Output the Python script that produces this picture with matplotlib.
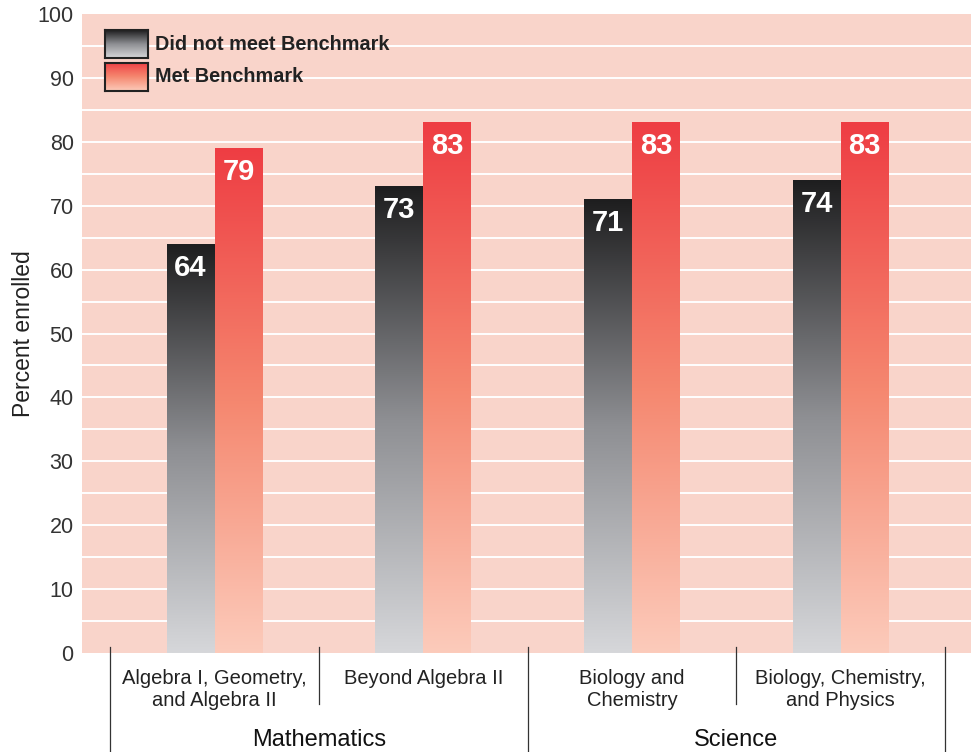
import numpy as np
import matplotlib
matplotlib.use("Agg")
import matplotlib.pyplot as plt
from matplotlib.colors import LinearSegmentedColormap
from matplotlib.transforms import blended_transform_factory

plt.rcParams["font.family"] = ["Liberation Sans", "DejaVu Sans"]

courses = ["Algebra I, Geometry,\nand Algebra II", "Beyond Algebra II",
           "Biology and\nChemistry", "Biology, Chemistry,\nand Physics"]
subjects = ["Mathematics", "Science"]
not_met = [64, 73, 71, 74]
met = [79, 83, 83, 83]
series_names = ["Did not meet Benchmark", "Met Benchmark"]

bg = "#f9d4ca"
dark_cmap = LinearSegmentedColormap.from_list("dark", ["#d6d7da", "#8e8f93", "#1e1e1f"])
red_cmap = LinearSegmentedColormap.from_list("red", ["#fccbbb", "#f5876f", "#ee3d43"])
grad = np.linspace(0, 1, 256).reshape(-1, 1)

fig = plt.figure(figsize=(9.71, 7.52), dpi=100)
ax = fig.add_axes([82 / 971, 99 / 752, 889 / 971, 639 / 752])
ax.set_facecolor(bg)

for y in range(5, 100, 5):
    ax.axhline(y, color="white", lw=1.4, zorder=1)

w = 0.23
x = np.arange(len(courses))
for xi, v0, v1 in zip(x, not_met, met):
    ax.imshow(grad, cmap=dark_cmap, origin="lower", aspect="auto",
              extent=(xi - w, xi, 0, v0), zorder=2)
    ax.imshow(grad, cmap=red_cmap, origin="lower", aspect="auto",
              extent=(xi, xi + w, 0, v1), zorder=2)
    ax.text(xi - w / 2, v0 - 3.7, str(v0), color="white", fontsize=21,
            fontweight="bold", ha="center", va="center", zorder=3)
    ax.text(xi + w / 2, v1 - 3.7, str(v1), color="white", fontsize=21,
            fontweight="bold", ha="center", va="center", zorder=3)
ax.set_xlim(-0.635, 3.625)
ax.set_ylim(0, 100)

ax.set_yticks(range(0, 101, 10))
ax.tick_params(axis="y", length=0, pad=6, labelsize=15.5, labelcolor="#333333")
ax.set_xticks([])
for s in ax.spines.values():
    s.set_visible(False)
ax.set_ylabel("Percent enrolled", fontsize=16.5, color="#222222", labelpad=2)

# category axis below
tr = blended_transform_factory(ax.transData, ax.transAxes)
for i, sep in enumerate(np.arange(-0.5, len(courses), 1)):
    bottom = -0.16 if i % 2 == 0 else -0.08
    ax.plot([sep, sep], [0.009, bottom], color="#333333", lw=0.9,
            transform=tr, clip_on=False)
for xi, lab in zip(x, courses):
    ax.text(xi, -0.025, lab, transform=tr, ha="center", va="top",
            fontsize=14.5, color="#222222", linespacing=1.2)
for j, subj in enumerate(subjects):
    ax.text(2 * j + 0.5, -0.119, subj, transform=tr, ha="center", va="top",
            fontsize=17, color="#111111")

# legend swatches
for k, (cmap, name) in enumerate(zip([dark_cmap, red_cmap], series_names)):
    bottom = (752 - 58 - 33 * k) / 752
    sax = fig.add_axes([105 / 971, bottom, 43 / 971, 28 / 752])
    sax.imshow(grad, cmap=cmap, origin="lower", aspect="auto")
    sax.set_xticks([])
    sax.set_yticks([])
    for s in sax.spines.values():
        s.set_color("#222222")
        s.set_linewidth(1.5)
    fig.text(155 / 971, bottom + 14 / 752, name, fontsize=14.3,
             fontweight="bold", color="#222222", va="center", ha="left")

fig.savefig("out.png", dpi=100, facecolor="white")
